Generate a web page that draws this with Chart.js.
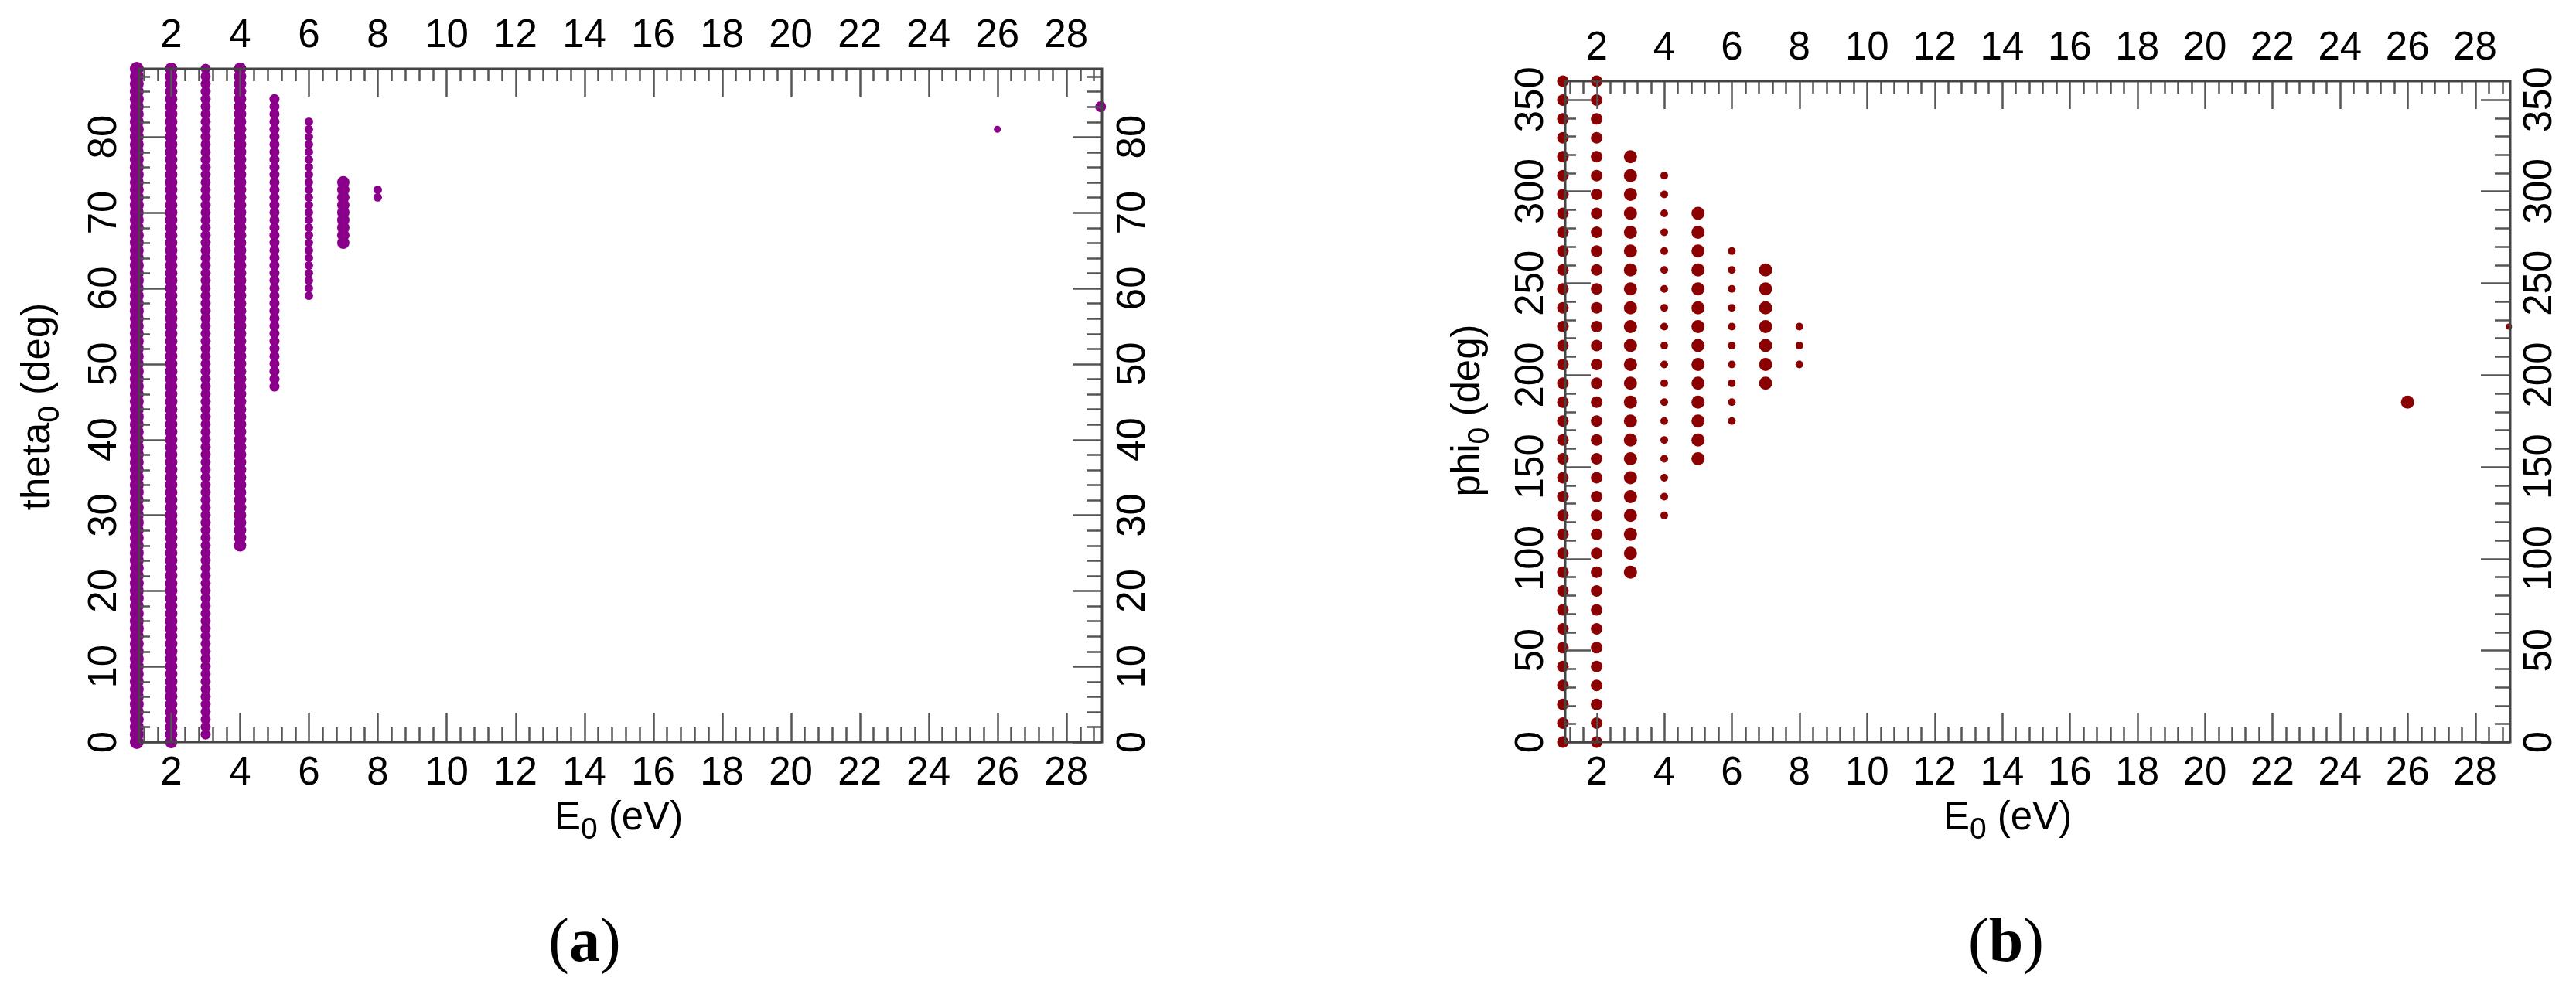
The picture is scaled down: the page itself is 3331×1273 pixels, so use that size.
<!DOCTYPE html>
<html>
<head>
<meta charset="utf-8">
<script src="https://cdn.jsdelivr.net/npm/chart.js@4.4.1/dist/chart.umd.min.js"></script>
<style>
  html, body { margin: 0; padding: 0; background: #fff; }
  body { width: 3331px; height: 1273px; position: relative; overflow: hidden; }
  canvas { position: absolute; top: 0; }
  #chartA { left: 0; }
  #chartB { left: 1665px; }
  .caption {
    position: absolute; top: 1176px; width: 300px; margin-left: -150px;
    text-align: center; color: #000;
    font: 80px/80px "Liberation Serif", "Times New Roman", serif;
  }
</style>
</head>
<body>
<canvas id="chartA" width="1665" height="1110"></canvas>
<canvas id="chartB" width="1666" height="1110"></canvas>
<div class="caption" style="left:756px">(<b>a</b>)</div>
<div class="caption" style="left:2594px">(<b>b</b>)</div>
<script>
// ----------------- Data -----------------
const energies = [1, 2, 3, 4, 5, 6, 7, 8, 26, 29];   // E0 (eV), one column each
const energyTicks = [2, 4, 6, 8, 10, 12, 14, 16, 18, 20, 22, 24, 26, 28];
const energyTickLabels = ['2', '4', '6', '8', '10', '12', '14', '16', '18', '20', '22', '24', '26', '28'];

// (a) theta_0 values found along the columns (deg)
const thetaLevels = [0, 1, 2, 3, 4, 5, 6, 7, 8, 9, 10, 11, 12, 13, 14, 15, 16, 17, 18, 19,
  20, 21, 22, 23, 24, 25, 26, 27, 28, 29, 30, 31, 32, 33, 34, 35, 36, 37, 38, 39,
  40, 41, 42, 43, 44, 45, 46, 47, 48, 49, 50, 51, 52, 53, 54, 55, 56, 57, 58, 59,
  60, 61, 62, 63, 64, 65, 66, 67, 68, 69, 70, 71, 72, 73, 74, 75, 76, 77, 78, 79,
  80, 81, 82, 83, 84, 85, 86, 87, 88, 89];
const thetaLow  = [0, 0, 1, 26, 47, 59, 66, 72, 81, 84];
const thetaHigh = [89, 89, 89, 89, 85, 82, 74, 73, 81, 84];
const thetaTicks = [0, 10, 20, 30, 40, 50, 60, 70, 80];
const thetaTickLabels = ['0', '10', '20', '30', '40', '50', '60', '70', '80'];

// (b) phi_0 values found along the columns (deg)
const phiLevels = [0, 10.29, 20.57, 30.86, 41.14, 51.43, 61.71, 72, 82.29, 92.57,
  102.86, 113.14, 123.43, 133.71, 144, 154.29, 164.57, 174.86, 185.14, 195.43,
  205.71, 216, 226.29, 236.57, 246.86, 257.14, 267.43, 277.71, 288, 298.29,
  308.57, 318.86, 329.14, 339.43, 349.71, 360];
const phiLow  = [0, 0, 92.57, 123.43, 154.29, 174.86, 195.43, 205.71, 185.14, 226.29];
const phiHigh = [360, 360, 318.86, 308.57, 288, 267.43, 257.14, 226.29, 185.14, 226.29];
const phiTicks = [0, 50, 100, 150, 200, 250, 300, 350];
const phiTickLabels = ['0', '50', '100', '150', '200', '250', '300', '350'];

// ----------------- Styles -----------------
const dotSizeA = [9, 8, 6.5, 8, 6.5, 5.5, 8, 5.5, 4.5, 7];
const dotSizeB = [7.5, 7.5, 8.5, 5, 8.5, 5, 8.5, 5, 8.5, 4];
const FONT = '"Liberation Sans", Arial, sans-serif';

function minorTicks(from, to, step, majorStep) {
  const out = [];
  for (let i = 0; from + i * step < to - 1e-6; i++) {
    const v = +(from + i * step).toFixed(4);
    if (Math.abs(v / majorStep - Math.round(v / majorStep)) > 1e-6) out.push(v);
  }
  return out;
}

function drawRich(ctx, parts, x, y, angle) {
  ctx.save();
  ctx.translate(x, y);
  ctx.rotate(angle);
  let total = 0;
  parts.forEach(p => { ctx.font = p[1] + 'px ' + FONT; total += ctx.measureText(p[0]).width; });
  let cx = -total / 2;
  ctx.textAlign = 'left';
  ctx.textBaseline = 'alphabetic';
  parts.forEach(p => {
    ctx.font = p[1] + 'px ' + FONT;
    ctx.fillText(p[0], cx, p[2]);
    cx += ctx.measureText(p[0]).width;
  });
  ctx.restore();
}

// ----------------- Boxed axes with inward ticks -----------------
const frameAxes = {
  id: 'frameAxes',
  afterDatasetsDraw(chart, args, o) {
    const { ctx, chartArea: a, scales: { x, y } } = chart;
    ctx.save();

    // tick marks, pointing into the plot on all four sides
    ctx.strokeStyle = '#555';
    ctx.lineWidth = 2.5;
    const seg = (x1, y1, x2, y2) => {
      ctx.beginPath(); ctx.moveTo(x1, y1); ctx.lineTo(x2, y2); ctx.stroke();
    };
    const xt = (vals, bot, top) => vals.forEach(v => {
      const px = Math.round(x.getPixelForValue(v)) + 0.5;
      seg(px, a.bottom, px, a.bottom - bot);
      seg(px, a.top, px, a.top + top);
    });
    const yt = (vals, left, right) => vals.forEach(v => {
      const py = Math.round(y.getPixelForValue(v)) + 0.5;
      seg(a.left, py, a.left + left, py);
      seg(a.right, py, a.right - right, py);
    });
    xt(o.xMinor, 19, 16);
    xt(o.xMajor, 38, 36);
    yt(o.yMinor, 14, 20);
    yt(o.yMajor, 33, 38);

    // frame
    ctx.strokeStyle = '#444';
    ctx.lineWidth = 3;
    ctx.strokeRect(a.left, a.top, a.right - a.left, a.bottom - a.top);

    // tick labels
    ctx.fillStyle = '#000';
    ctx.font = '51px ' + FONT;
    ctx.textAlign = 'center';
    ctx.textBaseline = 'alphabetic';
    o.xMajor.forEach((v, i) => {
      const px = x.getPixelForValue(v);
      ctx.fillText(o.xLabels[i], px, o.topBase);
      ctx.fillText(o.xLabels[i], px, o.bottomBase);
    });
    o.yMajor.forEach((v, i) => {
      const py = y.getPixelForValue(v);
      [o.leftBase, o.rightBase].forEach(bx => {
        ctx.save();
        ctx.translate(bx, py);
        ctx.rotate(-Math.PI / 2);
        ctx.fillText(o.yLabels[i], 0, 0);
        ctx.restore();
      });
    });

    // axis titles
    drawRich(ctx, o.xTitle, o.xTitlePos[0], o.xTitlePos[1], 0);
    drawRich(ctx, o.yTitle, o.yTitlePos[0], o.yTitlePos[1], -Math.PI / 2);
    ctx.restore();
  }
};

function buildSets(lows, highs, levels, sizes, color) {
  return energies.map((e, i) => ({
    data: levels.filter(v => v >= lows[i] - 0.01 && v <= highs[i] + 0.01).map(v => ({ x: e, y: v })),
    pointRadius: sizes[i],
    pointHoverRadius: sizes[i],
    pointBorderWidth: 0,
    backgroundColor: color,
    borderColor: color,
    showLine: false,
    clip: false
  }));
}

function makeChart(id, datasets, yMax, padding, axes) {
  return new Chart(document.getElementById(id), {
    type: 'scatter',
    data: { datasets },
    options: {
      indexAxis: 'y',   // columns sit at fixed E0, so look up visible points along y
      responsive: false,
      animation: false,
      devicePixelRatio: 1,
      events: [],
      layout: { padding },
      scales: {
        x: { type: 'linear', min: 1.07, max: 29.04, display: false },
        y: { type: 'linear', min: 0, max: yMax, display: false }
      },
      plugins: {
        legend: { display: false },
        tooltip: { enabled: false },
        frameAxes: axes
      }
    },
    plugins: [frameAxes]
  });
}

const xMinor = minorTicks(1.2, 29.04, 0.4, 2);

// ----------------- (a) theta_0 vs E_0 -----------------
makeChart('chartA',
  buildSets(thetaLow, thetaHigh, thetaLevels, dotSizeA, '#8b008b'),
  89,
  { left: 180, top: 89, right: 240, bottom: 150 },
  {
    xMajor: energyTicks, xLabels: energyTickLabels, xMinor,
    yMajor: thetaTicks, yLabels: thetaTickLabels, yMinor: minorTicks(0, 89, 2, 10),
    topBase: 61, bottomBase: 1015, leftBase: 150, rightBase: 1480,
    xTitle: [['E', 51, 0], ['0', 39, 12], [' (eV)', 51, 0]], xTitlePos: [800, 1073],
    yTitle: [['theta', 51, 0], ['0', 39, 12], [' (deg)', 51, 0]], yTitlePos: [64, 526]
  });

// ----------------- (b) phi_0 vs E_0 -----------------
makeChart('chartB',
  buildSets(phiLow, phiHigh, phiLevels, dotSizeB, '#8b0000'),
  360,
  { left: 359, top: 105, right: 85, bottom: 150 },
  {
    xMajor: energyTicks, xLabels: energyTickLabels, xMinor,
    yMajor: phiTicks, yLabels: phiTickLabels, yMinor: minorTicks(0, 360, 10, 50),
    topBase: 77, bottomBase: 1015, leftBase: 330, rightBase: 1634,
    xTitle: [['E', 51, 0], ['0', 39, 12], [' (eV)', 51, 0]], xTitlePos: [931, 1073],
    yTitle: [['phi', 51, 0], ['0', 39, 12], [' (deg)', 51, 0]], yTitlePos: [248, 531]
  });
</script>
</body>
</html>
